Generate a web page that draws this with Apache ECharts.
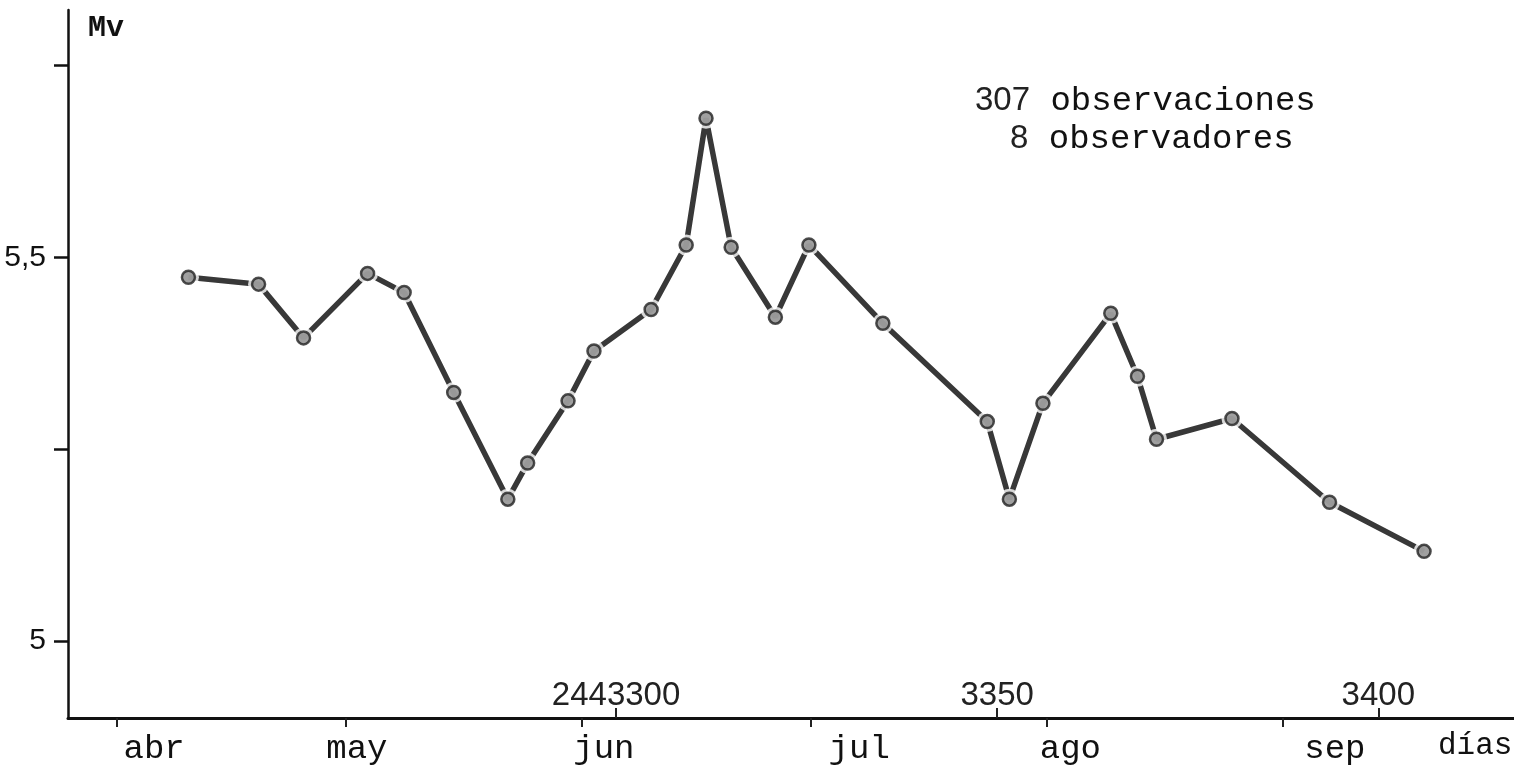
<!DOCTYPE html>
<html lang="es">
<head>
  <meta charset="UTF-8">
  <title>Mv - días</title>
  <script src="https://cdn.jsdelivr.net/npm/echarts@6/dist/echarts.min.js"></script>
  <style>
    html, body { margin: 0; padding: 0; background: #fff; }
    #echarts { width: 1514px; height: 771px; }
  </style>
</head>
<body>
  <div id="echarts"></div>
</body>
</html>
<script>
  // día juliano (JD - 2440000) de cada punto y su magnitud visual
  const dias = [3243.9, 3253.1, 3259.0, 3267.4, 3272.2, 3278.7, 3285.8, 3288.4, 3293.7,
    3297.1, 3304.6, 3309.2, 3311.8, 3315.1, 3320.9, 3325.3, 3335.0, 3348.7, 3351.6,
    3356.0, 3364.9, 3368.4, 3370.9, 3380.8, 3393.6, 3406.0];
  const mv = [5.474, 5.465, 5.395, 5.479, 5.454, 5.324, 5.185, 5.232, 5.313,
    5.378, 5.432, 5.516, 5.681, 5.513, 5.422, 5.516, 5.414, 5.286, 5.185,
    5.310, 5.427, 5.345, 5.263, 5.290, 5.181, 5.117];

  // meses: marca al inicio del mes, etiqueta escrita un poco a la derecha
  const meses = ['abr', 'may', 'jun', 'jul', 'ago', 'sep'];
  const mesInicio = [3234.5, 3264.5, 3295.5, 3325.5, 3356.5, 3387.5];
  const mesEtiqueta = [3239.4, 3266.0, 3298.4, 3331.9, 3359.6, 3394.3];

  const jdMarcas = [3300, 3350, 3400];
  const mvMarcas = [5, 5.25, 5.5, 5.75];
  const mvEtiquetas = [5, 5.5];

  const nObs = 307;
  const nObservadores = 8;

  const xMin = 3228.1, xMax = 3417.8;
  const yMin = 4.9, yMax = 5.822;

  const mono = "'Liberation Mono', 'DejaVu Sans Mono', monospace";
  const sans = "'Liberation Sans', 'DejaVu Sans', sans-serif";

  const puntos = dias.map((d, i) => [d, mv[i]]);

  let myChart = echarts.init(document.getElementById('echarts'));

  const gridBox = { left: 68, right: 0, top: 10, bottom: 53, containLabel: false, outerBoundsMode: 'none' };

  myChart.setOption({
    animation: false,
    backgroundColor: '#fff',
    grid: [Object.assign({}, gridBox), Object.assign({}, gridBox)],
    xAxis: [{
      gridIndex: 0,
      type: 'value',
      min: xMin,
      max: xMax,
      name: 'días',
      nameLocation: 'end',
      nameGap: -76,
      nameTextStyle: {
        fontFamily: mono, fontSize: 31, color: '#111',
        align: 'left', verticalAlign: 'top', padding: [12, 0, 0, 0]
      },
      axisLine: { lineStyle: { color: '#111', width: 3 } },
      axisTick: { show: true, customValues: mesInicio, length: 9, lineStyle: { color: '#222', width: 2 } },
      axisLabel: {
        customValues: mesEtiqueta,
        margin: 14,
        fontFamily: mono, fontSize: 34, color: '#111',
        formatter: v => meses[mesEtiqueta.indexOf(v)] || ''
      },
      splitLine: { show: false }
    }, {
      gridIndex: 1,
      type: 'value',
      min: xMin,
      max: xMax,
      axisLine: { show: false },
      axisTick: { show: true, inside: true, customValues: jdMarcas, length: 10, lineStyle: { color: '#222', width: 2 } },
      axisLabel: {
        inside: true,
        customValues: jdMarcas,
        margin: 6,
        fontFamily: sans, fontSize: 33, color: '#222',
        formatter: v => (v === jdMarcas[0] ? '244' + v : '' + v)
      },
      splitLine: { show: false }
    }],
    yAxis: [{
      gridIndex: 0,
      type: 'value',
      min: yMin,
      max: yMax,
      name: 'Mv',
      nameLocation: 'end',
      nameGap: -18,
      nameTextStyle: {
        fontFamily: mono, fontSize: 30, fontWeight: 'bold', color: '#111',
        align: 'left', verticalAlign: 'middle', padding: [0, 0, 0, 20]
      },
      axisLine: { show: true, lineStyle: { color: '#111', width: 2.5 } },
      axisTick: { show: true, customValues: mvMarcas, length: 14, lineStyle: { color: '#111', width: 2.5 } },
      axisLabel: {
        customValues: mvEtiquetas,
        margin: 22,
        fontFamily: sans, fontSize: 30, color: '#111',
        formatter: v => String(v).replace('.', ',')
      },
      splitLine: { show: false }
    }, {
      gridIndex: 1,
      type: 'value',
      min: yMin,
      max: yMax,
      show: false
    }],
    series: [{
      type: 'line',
      data: puntos,
      symbol: 'none',
      lineStyle: { color: '#383838', width: 5.5 },
      z: 2
    }, {
      // separación blanca alrededor de cada punto, como en el trazo a mano
      type: 'scatter',
      data: puntos,
      symbol: 'circle',
      symbolSize: 21,
      itemStyle: { color: '#fff' },
      z: 3,
      silent: true
    }, {
      type: 'scatter',
      data: puntos,
      symbol: 'circle',
      symbolSize: 13,
      itemStyle: { color: '#888', borderColor: '#222', borderWidth: 2.5 },
      z: 4
    }],
    graphic: [{
      type: 'text',
      left: 975,
      top: 84,
      style: {
        text: '{n|' + nObs + '}{t| observaciones}',
        rich: {
          n: { fontFamily: sans, fontSize: 33, fill: '#222' },
          t: { fontFamily: mono, fontSize: 34, fill: '#111' }
        }
      }
    }, {
      type: 'text',
      left: 1010,
      top: 122,
      style: {
        text: '{n|' + nObservadores + '}{t| observadores}',
        rich: {
          n: { fontFamily: sans, fontSize: 33, fill: '#222' },
          t: { fontFamily: mono, fontSize: 34, fill: '#111' }
        }
      }
    }]
  });
</script>
